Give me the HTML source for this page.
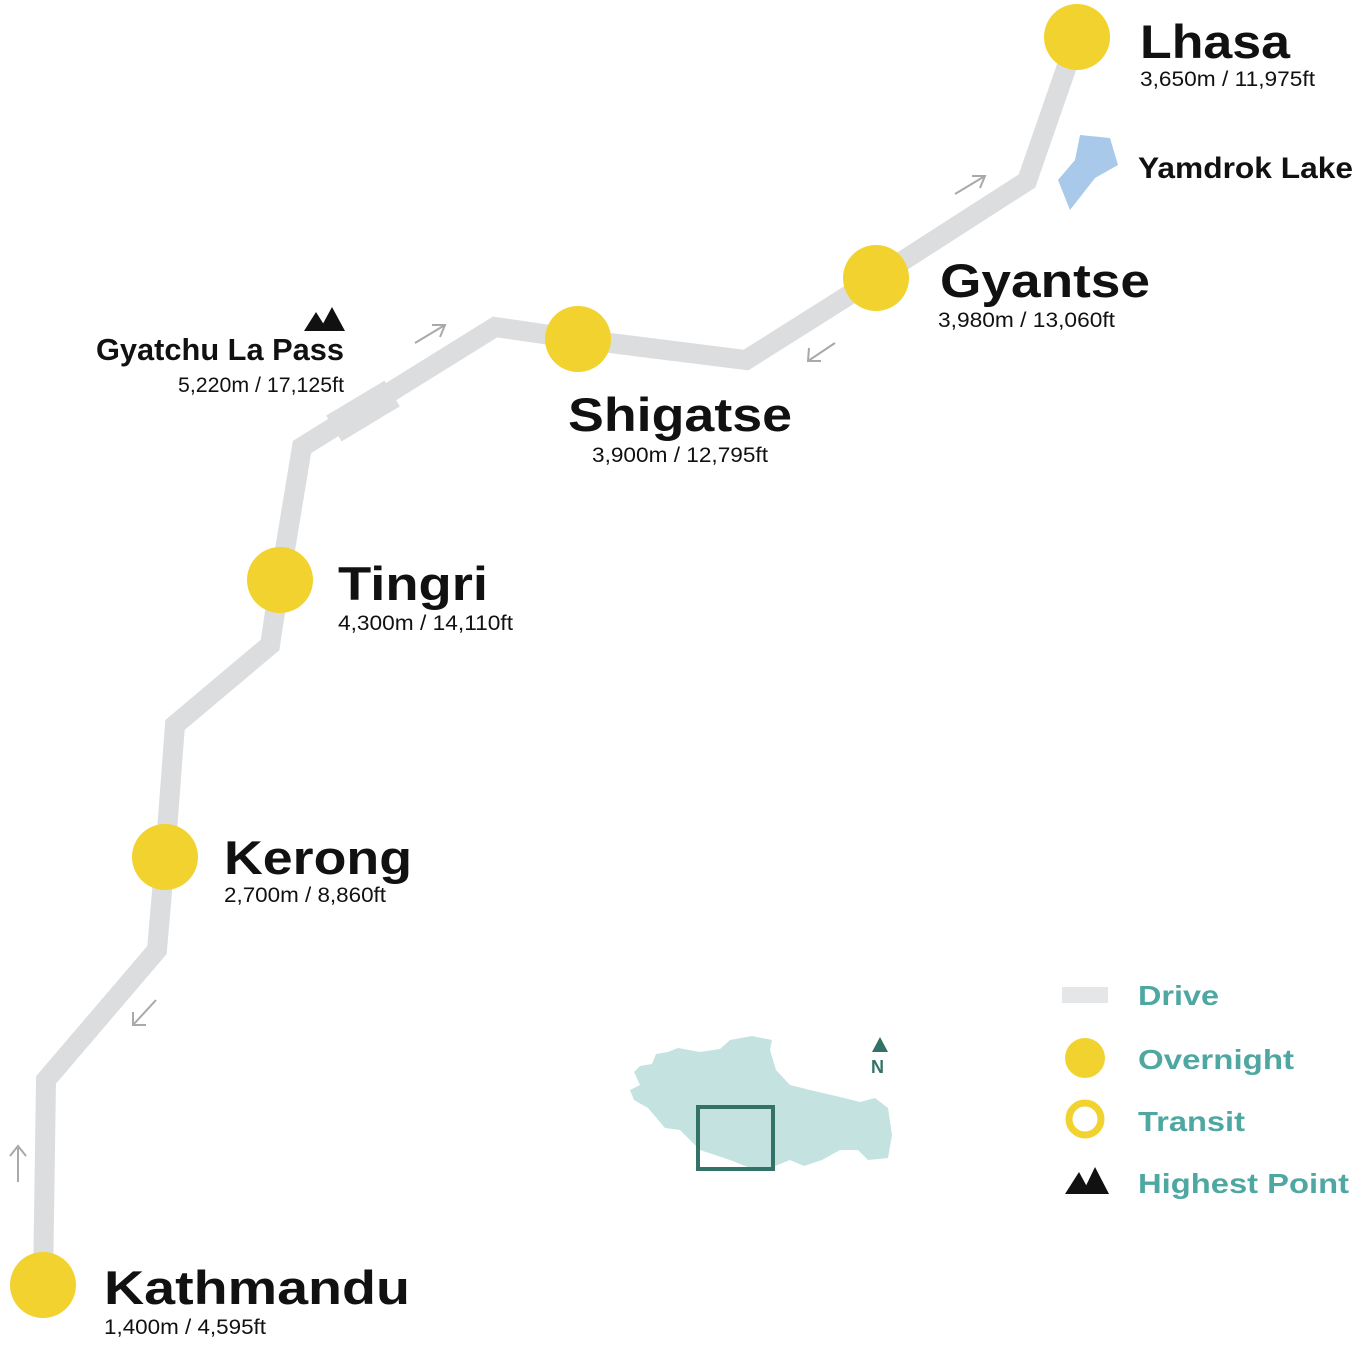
<!DOCTYPE html>
<html><head><style>html,body{margin:0;padding:0;background:#fff}svg{display:block}text{font-family:"Liberation Sans",sans-serif;font-weight:bold}text.n{font-weight:normal}</style></head>
<body>
<svg width="1362" height="1345" viewBox="0 0 1362 1345" xmlns="http://www.w3.org/2000/svg">
<polyline points="43,1285 46,1080 157,950 165,857 175,725 270,645 280,580 302,447 495,327 578,339 746,360 876,278 1027,181 1077,37" fill="none" stroke="#dcdddf" stroke-width="20" stroke-linejoin="miter"/>
<rect x="-34" y="-15" width="68" height="30" fill="#dcdddf" transform="translate(363,411) rotate(-31)"/>
<g fill="none" stroke="#a9a9a9" stroke-width="2">
<path d="M415,343 L445,325 M432,325 L445,325 L440,337"/>
<path d="M955,194 L985,176 M972,176 L985,176 L980,188"/>
<path d="M835,343 L808,361 M809,348 L808,361 L821,361"/>
<path d="M156,1000 L133,1025 M133,1012 L133,1025 L146,1025"/>
<path d="M18,1182 L18,1146 M10,1156 L18,1146 L26,1156"/>
</g>
<g fill="#f2d22e">
<circle cx="1077" cy="37" r="33"/><circle cx="876" cy="278" r="33"/><circle cx="578" cy="339" r="33"/>
<circle cx="280" cy="580" r="33"/><circle cx="165" cy="857" r="33"/><circle cx="43" cy="1285" r="33"/>
</g>
<polygon points="1080,135 1110,138 1118,165 1095,178 1070,210 1058,180 1075,160" fill="#a8c9ea"/>
<polygon points="304,331 316,312 328,331" fill="#111"/><polygon points="319,331 332,307 345,331" fill="#111"/>
<g fill="#111">
<text x="1140" y="58" font-size="47" textLength="150" lengthAdjust="spacingAndGlyphs">Lhasa</text>
<text x="940" y="297" font-size="47" textLength="210" lengthAdjust="spacingAndGlyphs">Gyantse</text>
<text x="568" y="431" font-size="47" textLength="224" lengthAdjust="spacingAndGlyphs">Shigatse</text>
<text x="338" y="600" font-size="47" textLength="150" lengthAdjust="spacingAndGlyphs">Tingri</text>
<text x="224" y="874" font-size="47" textLength="188" lengthAdjust="spacingAndGlyphs">Kerong</text>
<text x="104" y="1304" font-size="47" textLength="306" lengthAdjust="spacingAndGlyphs">Kathmandu</text>
<text x="96" y="360" font-size="31" textLength="248" lengthAdjust="spacingAndGlyphs">Gyatchu La Pass</text>
<text x="1138" y="178" font-size="30" textLength="215" lengthAdjust="spacingAndGlyphs">Yamdrok Lake</text>
</g>
<g fill="#111">
<text class="n" x="1140" y="86" font-size="21" textLength="175" lengthAdjust="spacingAndGlyphs">3,650m / 11,975ft</text>
<text class="n" x="938" y="327" font-size="21" textLength="177" lengthAdjust="spacingAndGlyphs">3,980m / 13,060ft</text>
<text class="n" x="592" y="462" font-size="21" textLength="176" lengthAdjust="spacingAndGlyphs">3,900m / 12,795ft</text>
<text class="n" x="338" y="630" font-size="21" textLength="175" lengthAdjust="spacingAndGlyphs">4,300m / 14,110ft</text>
<text class="n" x="224" y="902" font-size="21" textLength="162" lengthAdjust="spacingAndGlyphs">2,700m / 8,860ft</text>
<text class="n" x="104" y="1334" font-size="21" textLength="162" lengthAdjust="spacingAndGlyphs">1,400m / 4,595ft</text>
<text class="n" x="178" y="392" font-size="21" textLength="166" lengthAdjust="spacingAndGlyphs">5,220m / 17,125ft</text>
</g>
<path d="M634,1072 L640,1066 L652,1064 L656,1054 L668,1052 L678,1048 L700,1052 L720,1049 L730,1040 L752,1036 L772,1040 L770,1050 L776,1070 L790,1085 L810,1090 L840,1097 L860,1102 L875,1098 L888,1108 L892,1135 L888,1158 L868,1160 L858,1150 L840,1150 L822,1160 L804,1166 L790,1160 L770,1168 L750,1168 L730,1160 L700,1150 L680,1130 L665,1128 L648,1108 L634,1100 L630,1090 L640,1085 Z" fill="#c4e3e0"/>
<rect x="698" y="1107" width="75" height="62" fill="none" stroke="#347167" stroke-width="4"/>
<polygon points="880,1037 872,1052 888,1052" fill="#347167"/>
<text x="871" y="1073" font-size="18" fill="#347167">N</text>
<rect x="1062" y="987" width="46" height="16" fill="#e5e6e7"/>
<circle cx="1085" cy="1058" r="20" fill="#f2d22e"/>
<circle cx="1085" cy="1119" r="16" fill="none" stroke="#f2d22e" stroke-width="7"/>
<polygon points="1065,1194 1079,1172 1091,1194" fill="#111"/><polygon points="1082,1194 1095,1167 1109,1194" fill="#111"/>
<g fill="#4fa7a2">
<text x="1138" y="1005" font-size="28" textLength="81" lengthAdjust="spacingAndGlyphs">Drive</text>
<text x="1138" y="1069" font-size="28" textLength="156" lengthAdjust="spacingAndGlyphs">Overnight</text>
<text x="1138" y="1131" font-size="28" textLength="107" lengthAdjust="spacingAndGlyphs">Transit</text>
<text x="1138" y="1193" font-size="28" textLength="211" lengthAdjust="spacingAndGlyphs">Highest Point</text>
</g>
</svg>
</body></html>
